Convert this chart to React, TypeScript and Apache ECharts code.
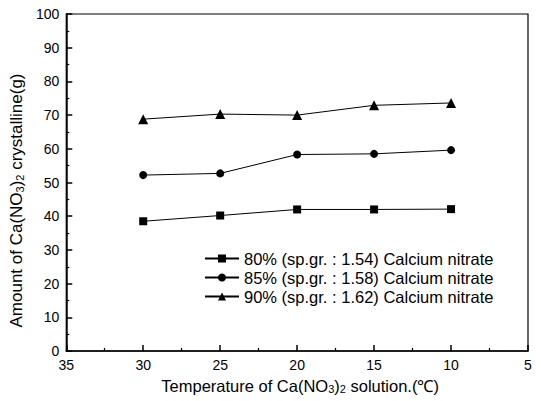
import React, { useEffect, useRef } from "react";
import * as echarts from "echarts";

const temperatures = [30, 25, 20, 15, 10];
const s80 = [38.5, 40.2, 42.0, 42.0, 42.1];
const s85 = [52.2, 52.7, 58.3, 58.5, 59.6];
const s90 = [68.8, 70.3, 70.0, 72.9, 73.6];
const seriesNames = [
  "80% (sp.gr. : 1.54) Calcium nitrate",
  "85% (sp.gr. : 1.58) Calcium nitrate",
  "90% (sp.gr. : 1.62) Calcium nitrate",
];
const symbols = ["rect", "circle", "triangle"];
const symbolSizes = [8, 8, 10];

export default function App() {
  const ref = useRef<HTMLDivElement>(null);
  useEffect(() => {
    if (!ref.current) return;
    const chart = echarts.init(ref.current, undefined, { renderer: "svg" });
    const font = "Liberation Sans, Arial, sans-serif";
    const datasets = [s80, s85, s90];
    const sub = { fontSize: 11, fontFamily: font, color: "#000", padding: [6, 0, 0, 0] };
    chart.setOption({
      animation: false,
      backgroundColor: "#fff",
      textStyle: { fontFamily: font, color: "#000" },
      grid: {
        left: 66,
        top: 14,
        right: 13,
        bottom: 50,
        show: true,
        borderColor: "#000",
        borderWidth: 1.2,
        backgroundColor: "transparent",
      },
      legend: {
        orient: "vertical",
        left: 199,
        top: 245,
        itemWidth: 34,
        itemHeight: 10,
        itemGap: 2,
        textStyle: { fontFamily: font, fontSize: 16.5, color: "#000", lineHeight: 17 },
        data: seriesNames,
      },
      xAxis: {
        type: "value",
        inverse: true,
        min: 5,
        max: 35,
        interval: 5,
        name: "Temperature of Ca(NO{sub|3}){sub|2} solution.(℃)",
        nameLocation: "middle",
        nameGap: 26,
        nameTextStyle: {
          fontFamily: font,
          fontSize: 16.5,
          color: "#000",
          padding: [0, 0, 0, 6],
          rich: { sub },
        },
        axisLine: { show: true, onZero: false, lineStyle: { color: "#000", width: 1.5 } },
        axisTick: { show: true, inside: true, length: 6, lineStyle: { color: "#000", width: 1.5 } },
        minorTick: { show: true, splitNumber: 2, length: 3, lineStyle: { color: "#000", width: 1.2 } },
        axisLabel: { fontFamily: font, fontSize: 14, color: "#000", margin: 7 },
        splitLine: { show: false },
      },
      yAxis: {
        type: "value",
        min: 0,
        max: 100,
        interval: 10,
        name: "Amount of Ca(NO{sub|3}){sub|2} crystalline(g)",
        nameLocation: "middle",
        nameGap: 41,
        nameTextStyle: {
          fontFamily: font,
          fontSize: 17,
          color: "#000",
          padding: [0, 36, 0, 0],
          rich: { sub },
        },
        axisLine: { show: true, lineStyle: { color: "#000", width: 1.5 } },
        axisTick: { show: true, inside: true, length: 6, lineStyle: { color: "#000", width: 1.5 } },
        minorTick: { show: true, splitNumber: 2, length: 3, lineStyle: { color: "#000", width: 1.2 } },
        axisLabel: { fontFamily: font, fontSize: 14, color: "#000", margin: 7 },
        splitLine: { show: false },
      },
      series: datasets.map((d, i) => ({
        name: seriesNames[i],
        type: "line",
        data: temperatures.map((t, j) => [t, d[j]]),
        symbol: symbols[i],
        symbolSize: symbolSizes[i],
        itemStyle: { color: "#000" },
        lineStyle: { color: "#000", width: 1 },
      })),
    });
    return () => chart.dispose();
  }, []);
  return (
    <div
      ref={ref}
      style={{ width: 541, height: 401, position: "fixed", top: 0, left: 0 }}
    />
  );
}
